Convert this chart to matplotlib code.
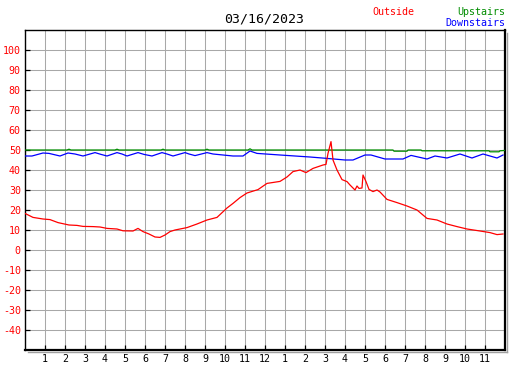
import matplotlib
matplotlib.use("Agg")
import matplotlib.pyplot as plt
from matplotlib.lines import Line2D

# Data (hours since midnight, degrees)
title = "03/16/2023"
hour_ticks = list(range(1, 24))
hour_labels = [str(h) for h in range(1, 13)] + [str(h) for h in range(1, 12)]
temp_ticks = list(range(-40, 101, 10))

outside_h = [0, 0.4, 0.9, 1.25, 1.65, 2.2, 2.6, 2.9, 3.4, 3.75, 4.1, 4.6, 4.9,
             5.4, 5.65, 5.9, 6.2, 6.5, 6.75, 7.0, 7.25, 7.5, 8.1, 8.6, 9.1,
             9.6, 10.1, 10.4, 10.75, 11.1, 11.65, 12.1, 12.75, 13.1, 13.4,
             13.75, 14.05, 14.4, 14.9, 15.05, 15.15, 15.3, 15.4, 15.6, 15.85,
             16.1, 16.25, 16.5, 16.6, 16.7, 16.85, 16.9, 17.05, 17.2, 17.4,
             17.6, 17.75, 18.1, 18.6, 19.1, 19.6, 20.1, 20.6, 21.1, 21.6,
             22.1, 22.75, 23.25, 23.6, 23.9]
outside_t = [18.3, 16.3, 15.5, 15.2, 13.7, 12.5, 12.3, 11.8, 11.7, 11.5, 10.8,
             10.5, 9.6, 9.5, 10.8, 9.2, 8.0, 6.5, 6.3, 7.5, 9.2, 10, 11.2, 13,
             15, 16.3, 21, 23.3, 26.2, 28.5, 30.2, 33.3, 34.3, 36.5, 39.2, 40,
             38.7, 40.8, 42.5, 42.8, 48.3, 54.2, 45, 40, 35.2, 34.2, 32.5, 30,
             32, 30.8, 31, 37.5, 34.2, 30.3, 29.2, 30, 29, 25.3, 23.7, 22, 20,
             15.8, 15, 13, 11.7, 10.5, 9.5, 8.7, 7.7, 8]

upstairs_h = [0, 2.1, 2.2, 2.3, 4.5, 4.6, 4.7, 6.8, 6.9, 7.0, 9.0, 9.1, 9.2,
              11.15, 11.25, 11.35, 18.4, 18.45, 19.1, 19.15, 19.8, 19.85,
              23.2, 23.25, 23.7, 23.75, 24]
upstairs_t = [50, 50, 50.4, 50, 50, 50.4, 50, 50, 50.4, 50, 50, 50.4, 50,
              50, 50.6, 50, 50, 49.4, 49.4, 50, 50, 49.6, 49.6, 49.1, 49.1,
              49.6, 49.8]

downstairs_h = [0, 0.35, 0.9, 1.2, 1.75, 2.15, 2.5, 2.9, 3.5, 3.8, 4.1, 4.6,
                4.85, 5.1, 5.65, 5.95, 6.35, 6.85, 7.1, 7.4, 8.0, 8.2, 8.5,
                9.1, 9.4, 10.4, 10.9, 11.25, 11.6, 12.75, 14.25, 15.1, 16.0,
                16.4, 17.0, 17.3, 18.0, 18.9, 19.3, 20.1, 20.5, 21.1, 21.75,
                22.35, 22.9, 23.6, 23.9]
downstairs_t = [47, 47, 48.5, 48.3, 47, 48.5, 48, 47, 48.7, 47.8, 47, 48.7,
                48, 47, 48.7, 47.8, 47, 48.7, 48, 47, 48.7, 48, 47.2, 48.7,
                48, 47, 47, 49.5, 48.3, 47.5, 46.5, 45.8, 45, 45, 47.5, 47.5,
                45.5, 45.5, 47.3, 45.5, 47, 46, 48, 46, 48, 46, 47.5]

W, H = 527, 370
fig = plt.figure(figsize=(W / 100, H / 100), dpi=100)
font = "DejaVu Sans Mono"

left, right, top, bottom = 25, 505, 30, 350
ax = fig.add_axes([left / W, 1 - bottom / H, (right - left) / W, (bottom - top) / H])

grid_color = "#a8a8a8"
for h in hour_ticks:
    ax.axvline(h, color=grid_color, linewidth=0.75, zorder=1)
for t in temp_ticks:
    ax.axhline(t, color=grid_color, linewidth=0.75, zorder=1)

ax.plot(upstairs_h, upstairs_t, color="#008c00", linewidth=0.9, zorder=3)
ax.plot(downstairs_h, downstairs_t, color="#0000ff", linewidth=0.9, zorder=3)
ax.plot(outside_h, outside_t, color="#ff0000", linewidth=0.9, zorder=4)

ax.set_xlim(0, 24)
ax.set_ylim(-50, 110)

ax.set_xticks(hour_ticks)
ax.set_xticklabels(hour_labels, fontfamily=font, fontsize=7.2)
ax.set_yticks(temp_ticks)
ax.set_yticklabels([str(t) for t in temp_ticks], fontfamily=font,
                   fontsize=7.2, color="#ff0000")
ax.tick_params(axis="both", direction="in", length=3.5, width=0.9,
               color="black", pad=3)

for side in ["left", "top"]:
    ax.spines[side].set_linewidth(1.0)
for side in ["right", "bottom"]:
    ax.spines[side].set_linewidth(1.6)

# drop shadow along right and bottom edges
shadow = "#a0a0a0"
fig.add_artist(Line2D([(left + 3) / W, (right + 2) / W],
                      [1 - (bottom + 2) / H] * 2, color=shadow, linewidth=1.0))
fig.add_artist(Line2D([(right + 2) / W] * 2,
                      [1 - (top + 3) / H, 1 - (bottom + 2) / H],
                      color=shadow, linewidth=1.0))

fig.text(264 / W, 1 - 19 / H, title, fontfamily=font, fontsize=9.5,
         ha="center", va="center")
fig.text(393 / W, 1 - 12 / H, "Outside", fontfamily=font, fontsize=7.2,
         color="#ff0000", ha="center", va="center")
fig.text(505 / W, 1 - 12 / H, "Upstairs", fontfamily=font, fontsize=7.2,
         color="#008c00", ha="right", va="center")
fig.text(505 / W, 1 - 23 / H, "Downstairs", fontfamily=font, fontsize=7.2,
         color="#0000ff", ha="right", va="center")

fig.savefig("out.png", dpi=100)
